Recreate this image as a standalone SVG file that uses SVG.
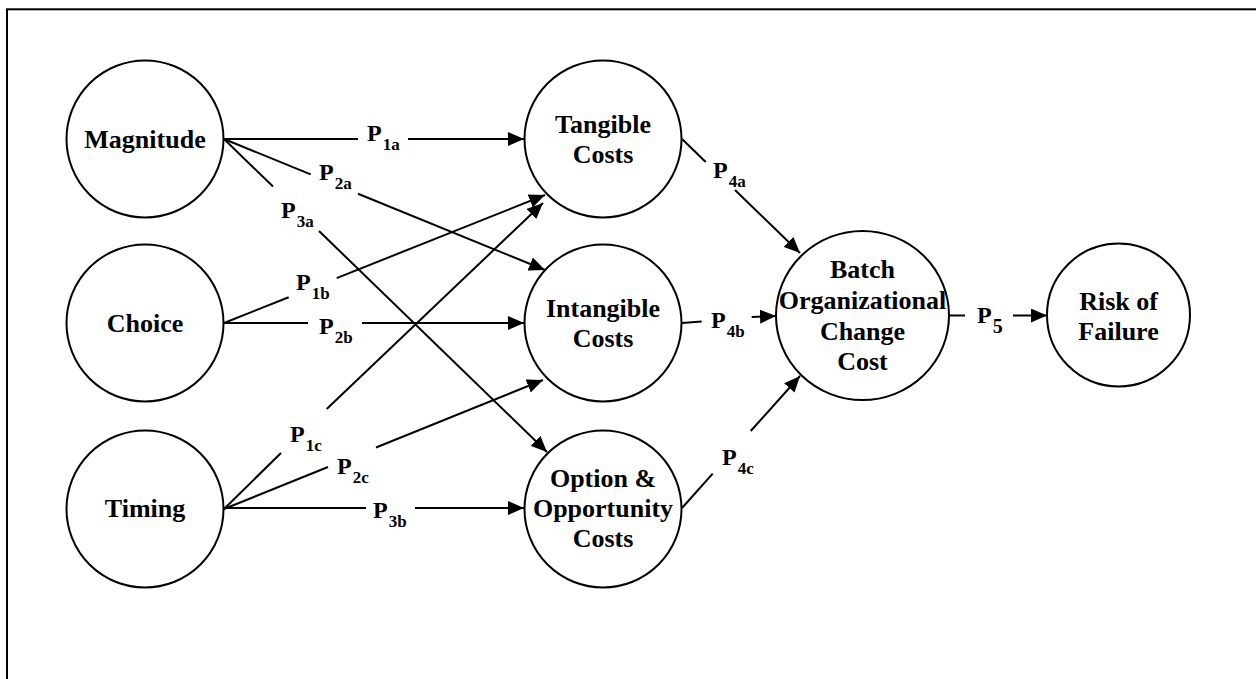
<svg xmlns="http://www.w3.org/2000/svg" width="1256" height="679" viewBox="0 0 1256 679">
<style>
.node circle, .node ellipse { fill: #fff; stroke: #000; stroke-width: 2; }
.node text { font-family: "Liberation Serif", "Times New Roman", serif; font-weight: bold; font-size: 26px; text-anchor: middle; fill: #000; }
.edges line { stroke: #000; stroke-width: 2; }
.lbl { font-family: "Liberation Serif", "Times New Roman", serif; font-weight: bold; font-size: 24px; fill: #000; }
.lbl tspan { font-size: 17px; }
</style>
<defs>
<marker id="arr" markerUnits="userSpaceOnUse" markerWidth="16" markerHeight="14" refX="16" refY="7" orient="auto">
<path d="M0,0 L16,7 L0,14 Z" fill="#000"/>
</marker>
</defs>
<rect x="7" y="9.3" width="1270" height="690" fill="#fff" stroke="#000" stroke-width="2"/>

<g class="edges">
<line x1="224" y1="139" x2="358" y2="139"/>
<line x1="408" y1="139" x2="524" y2="139" marker-end="url(#arr)"/>
<line x1="224" y1="139" x2="310.7" y2="174.4"/>
<line x1="358" y1="193.7" x2="545" y2="270" marker-end="url(#arr)"/>
<line x1="224" y1="139" x2="273" y2="186.5"/>
<line x1="319" y1="231" x2="547" y2="452" marker-end="url(#arr)"/>
<line x1="224" y1="323" x2="288.7" y2="297.2"/>
<line x1="336.7" y1="278.1" x2="545" y2="195" marker-end="url(#arr)"/>
<line x1="224" y1="323" x2="308" y2="323"/>
<line x1="362" y1="323" x2="524" y2="323" marker-end="url(#arr)"/>
<line x1="224" y1="509" x2="281" y2="453"/>
<line x1="326.7" y1="409" x2="543" y2="203" marker-end="url(#arr)"/>
<line x1="224" y1="509" x2="328" y2="467"/>
<line x1="376" y1="447.5" x2="543" y2="380" marker-end="url(#arr)"/>
<line x1="224" y1="508" x2="366" y2="508"/>
<line x1="415" y1="508" x2="524" y2="508" marker-end="url(#arr)"/>
<line x1="682" y1="139" x2="705.7" y2="162"/>
<line x1="735" y1="190" x2="800" y2="253" marker-end="url(#arr)"/>
<line x1="682" y1="323" x2="701.7" y2="321.6"/>
<line x1="751.7" y1="317" x2="776" y2="316" marker-end="url(#arr)"/>
<line x1="682" y1="508" x2="712.7" y2="473.7"/>
<line x1="750.7" y1="431" x2="800" y2="376" marker-end="url(#arr)"/>
<line x1="949" y1="315.5" x2="965" y2="315.5"/>
<line x1="1013" y1="315.5" x2="1047" y2="315.5" marker-end="url(#arr)"/>
</g>

<g id="labels">
<text class="lbl" x="367" y="140.5">P<tspan dx="1" dy="9">1a</tspan></text>
<text class="lbl" x="319" y="179.5">P<tspan dx="1" dy="9">2a</tspan></text>
<text class="lbl" x="281" y="218">P<tspan dx="1" dy="9">3a</tspan></text>
<text class="lbl" x="296" y="289.5">P<tspan dx="1" dy="9">1b</tspan></text>
<text class="lbl" x="319" y="333.5">P<tspan dx="1" dy="9">2b</tspan></text>
<text class="lbl" x="290" y="441.5">P<tspan dx="1" dy="9">1c</tspan></text>
<text class="lbl" x="337" y="474">P<tspan dx="1" dy="9">2c</tspan></text>
<text class="lbl" x="373" y="518">P<tspan dx="1" dy="9">3b</tspan></text>
<text class="lbl" x="713" y="178">P<tspan dx="1" dy="9">4a</tspan></text>
<text class="lbl" x="711" y="328">P<tspan dx="1" dy="9">4b</tspan></text>
<text class="lbl" x="722" y="464.5">P<tspan dx="1" dy="9">4c</tspan></text>
<text class="lbl" x="977" y="322.7">P<tspan dx="1" dy="10.6" style="font-size:20px">5</tspan></text>
</g>

<g id="magnitude" class="node"><circle cx="145" cy="139" r="78.5"/><text x="145" y="148">Magnitude</text></g>
<g id="choice" class="node"><circle cx="145" cy="323" r="78.5"/><text x="145" y="332">Choice</text></g>
<g id="timing" class="node"><circle cx="145" cy="509" r="78.5"/><text x="145" y="517">Timing</text></g>
<g id="tangible" class="node"><circle cx="603" cy="139" r="78.5"/><text x="603" y="132.5">Tangible</text><text x="603" y="162.5">Costs</text></g>
<g id="intangible" class="node"><circle cx="603" cy="323" r="78.5"/><text x="603" y="316.5">Intangible</text><text x="603" y="346.5">Costs</text></g>
<g id="option" class="node"><circle cx="603" cy="509" r="78.5"/><text x="603" y="486.5">Option &amp;</text><text x="603" y="516.5">Opportunity</text><text x="603" y="546.5">Costs</text></g>
<g id="batch" class="node"><ellipse cx="862.5" cy="315.5" rx="86.5" ry="84.5"/><text x="862.5" y="278">Batch</text><text x="862.5" y="309">Organizational</text><text x="862.5" y="339.5">Change</text><text x="862.5" y="370">Cost</text></g>
<g id="risk" class="node"><circle cx="1118.5" cy="315" r="71.5"/><text x="1118.5" y="310">Risk of</text><text x="1118.5" y="339.5">Failure</text></g>
</svg>
